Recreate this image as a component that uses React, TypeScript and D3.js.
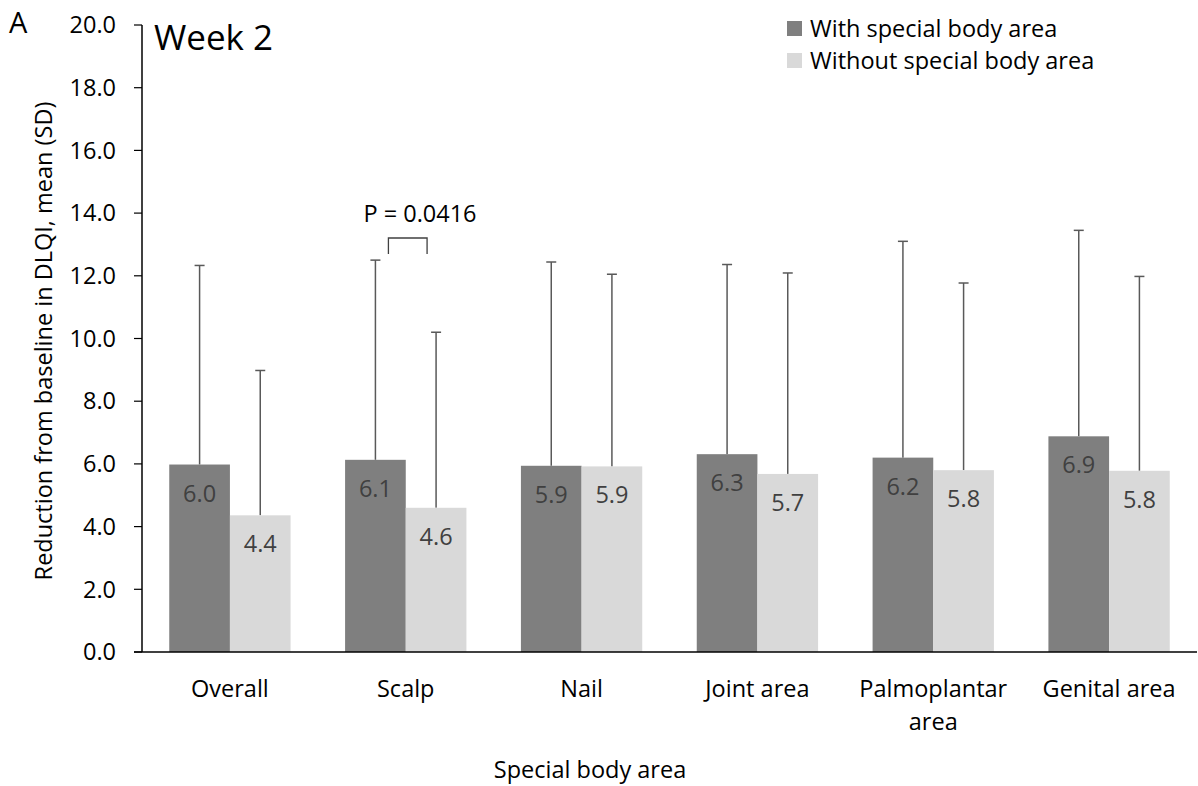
import * as d3 from 'd3';

const categories = ['Overall', 'Scalp', 'Nail', 'Joint area', 'Palmoplantar\narea', 'Genital area'];
const withMeans = [5.98, 6.13, 5.94, 6.31, 6.2, 6.88];
const withSD = [6.35, 6.37, 6.5, 6.05, 6.9, 6.57];
const withoutMeans = [4.36, 4.6, 5.92, 5.68, 5.8, 5.78];
const withoutSD = [4.62, 5.6, 6.13, 6.41, 5.97, 6.2];
const yTicks = [0, 2, 4, 6, 8, 10, 12, 14, 16, 18, 20];
const seriesNames = ['With special body area', 'Without special body area'];
const seriesColors = ['#7f7f7f', '#d9d9d9'];

const W = 1198;
const H = 786;
const font = "'Open Sans', sans-serif";
const fs = 23.5;

export default function App() {
  const x = d3.scaleBand<string>().domain(categories).range([142, 1197]).paddingInner(0.31).paddingOuter(0.155);
  const sub = d3.scaleBand<number>().domain([0, 1]).range([0, x.bandwidth()]);
  const y = d3.scaleLinear().domain([0, 20]).range([652, 25]);
  const series = [
    { means: withMeans, sd: withSD },
    { means: withoutMeans, sd: withoutSD },
  ];

  // p-value bracket between Scalp bars' error bars
  const scalpX = x('Scalp')!;
  const bx0 = scalpX + sub(0)! + sub.bandwidth() / 2 + 13;
  const bx1 = scalpX + sub(1)! + sub.bandwidth() / 2 - 9;

  return (
    <svg width={W} height={H} style={{ position: 'absolute', left: 0, top: 0, background: '#fff' }}>
      <text x={9} y={33} fontFamily={font} fontSize={29} fill="#000">A</text>
      <text x={154} y={50} fontFamily={font} fontSize={35} fill="#000">Week 2</text>

      {/* bars */}
      {series.map((s, si) =>
        categories.map((c, i) => {
          const bx = x(c)! + sub(si)!;
          const bw = sub.bandwidth();
          const cx = bx + bw / 2;
          const top = y(s.means[i]);
          const errTop = y(s.means[i] + s.sd[i]);
          return (
            <g key={`${si}-${i}`}>
              <line x1={cx} x2={cx} y1={top} y2={errTop} stroke="#595959" strokeWidth={1.5} />
              <line x1={cx - 5} x2={cx + 5} y1={errTop} y2={errTop} stroke="#595959" strokeWidth={1.5} />
              <rect x={bx} y={top} width={bw} height={y(0) - top} fill={seriesColors[si]} />
              <text x={cx} y={top + 37} textAnchor="middle" fontFamily={font} fontSize={fs} fill="#404040">
                {s.means[i].toFixed(1)}
              </text>
            </g>
          );
        })
      )}

      {/* y axis */}
      <line x1={142} x2={142} y1={y(20)} y2={y(0)} stroke="#000" strokeWidth={1.5} />
      {yTicks.map((t) => (
        <g key={t}>
          <line x1={134} x2={142} y1={y(t)} y2={y(t)} stroke="#000" strokeWidth={1.2} />
          <text x={116} y={y(t)} dy="0.35em" textAnchor="end" fontFamily={font} fontSize={fs} fill="#000">
            {t.toFixed(1)}
          </text>
        </g>
      ))}
      {/* x axis */}
      <line x1={134} x2={1197} y1={y(0)} y2={y(0)} stroke="#000" strokeWidth={1.5} />
      {categories.map((c) => (
        <text key={c} x={x(c)! + x.bandwidth() / 2} y={697} textAnchor="middle" fontFamily={font} fontSize={fs} fill="#000">
          {c.split('\n').map((ln, k) => (
            <tspan key={k} x={x(c)! + x.bandwidth() / 2} dy={k === 0 ? 0 : 33}>{ln}</tspan>
          ))}
        </text>
      ))}

      <text x={590} y={778} textAnchor="middle" fontFamily={font} fontSize={fs} fill="#000">Special body area</text>
      <text transform={`translate(52,${341}) rotate(-90)`} textAnchor="middle" fontFamily={font} fontSize={fs} fill="#000">
        Reduction from baseline in DLQI, mean (SD)
      </text>

      {/* p-value */}
      <path d={`M${bx0},${254}V${238}H${bx1}V${254}`} fill="none" stroke="#404040" strokeWidth={1.3} />
      <text x={420} y={222} textAnchor="middle" fontFamily={font} fontSize={fs} fill="#000">P = 0.0416</text>

      {/* legend */}
      {seriesNames.map((n, i) => (
        <g key={n} transform={`translate(787,${21 + i * 32})`}>
          <rect width={15} height={15} fill={seriesColors[i]} />
          <text x={23} y={8} dy="0.35em" fontFamily={font} fontSize={fs} fill="#000">{n}</text>
        </g>
      ))}
    </svg>
  );
}
